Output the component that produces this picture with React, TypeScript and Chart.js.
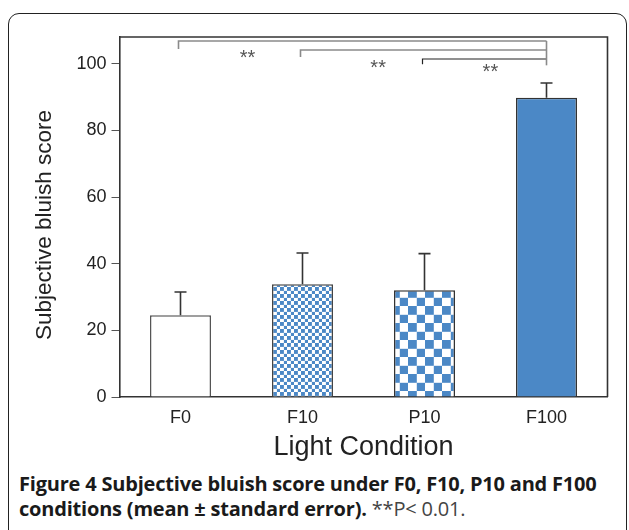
import React, { useEffect, useRef } from "react";
import { Chart, registerables } from "chart.js";

Chart.register(...registerables);

const categories = ["F0", "F10", "P10", "F100"];
const means = [24.5, 33.8, 32.0, 89.8];
const errors = [7.0, 9.4, 11.0, 4.4];
const yTicks = [0, 20, 40, 60, 80, 100];
const bracketFrom = [0, 1, 2];
const bracketTo = [3, 3, 3];
const bracketLevels = [106.8, 104.1, 101.4];
const bracketLegEnds = [104.4, 102.0, 99.8];
const bracketColors = ["#8a8a8a", "#8a8a8a", "#222222"];
const starLevels = [102.4, 99.6, 98.2];
const starXs = [0.55, 1.62, 2.54];
const starLabel = "**";

const BLUE = "#4b88c6";
const FONT = "'Liberation Sans', Arial, sans-serif";

function makeChecker(cell: number): CanvasPattern | string {
  const c = document.createElement("canvas");
  c.width = cell * 2;
  c.height = cell * 2;
  const g = c.getContext("2d");
  if (!g) return BLUE;
  g.fillStyle = "#ffffff";
  g.fillRect(0, 0, cell * 2, cell * 2);
  g.fillStyle = BLUE;
  g.fillRect(0, 0, cell, cell);
  g.fillRect(cell, cell, cell, cell);
  const p = g.createPattern(c, "repeat");
  return p || BLUE;
}

export default function App() {
  const ref = useRef<HTMLCanvasElement | null>(null);

  useEffect(() => {
    document.body.style.margin = "0";
    const canvas = ref.current;
    if (!canvas) return;

    const overlay = {
      id: "overlay",
      afterDatasetsDraw(chart: any) {
        const ctx = chart.ctx;
        const ys = chart.scales.y;
        const xs = chart.scales.x;
        const meta = chart.getDatasetMeta(0);
        ctx.save();
        // error bars
        ctx.strokeStyle = "#333";
        ctx.lineWidth = 1.6;
        meta.data.forEach((bar: any, i: number) => {
          const y0 = ys.getPixelForValue(means[i]);
          const y1 = ys.getPixelForValue(means[i] + errors[i]);
          ctx.beginPath();
          ctx.moveTo(bar.x, y0);
          ctx.lineTo(bar.x, y1);
          ctx.moveTo(bar.x - 6, y1);
          ctx.lineTo(bar.x + 6, y1);
          ctx.stroke();
        });
        // brackets
        bracketFrom.forEach((from, i) => {
          const xa = xs.getPixelForValue(from);
          const xb = xs.getPixelForValue(bracketTo[i]);
          const yl = ys.getPixelForValue(bracketLevels[i]);
          const yleg = ys.getPixelForValue(bracketLegEnds[i]);
          ctx.strokeStyle = bracketColors[i];
          ctx.lineWidth = i === 2 ? 1.2 : 1.6;
          ctx.beginPath();
          ctx.moveTo(xa - 2, yleg);
          ctx.lineTo(xa - 2, yl);
          ctx.lineTo(xb, yl);
          ctx.stroke();
        });
        // right vertical
        const xr = xs.getPixelForValue(bracketTo[0]);
        ctx.strokeStyle = "#8a8a8a";
        ctx.lineWidth = 1.6;
        ctx.beginPath();
        ctx.moveTo(xr, ys.getPixelForValue(bracketLevels[0]));
        ctx.lineTo(xr, ys.getPixelForValue(bracketLegEnds[2]) + 1);
        ctx.stroke();
        // stars
        ctx.fillStyle = "#555";
        ctx.font = "20px " + FONT;
        ctx.textAlign = "center";
        ctx.textBaseline = "middle";
        starXs.forEach((sx, i) => {
          ctx.fillText(starLabel, xs.getPixelForValue(sx), ys.getPixelForValue(starLevels[i]) + 3);
        });
        ctx.restore();
      },
      afterDraw(chart: any) {
        const ctx = chart.ctx;
        const a = chart.chartArea;
        ctx.save();
        ctx.strokeStyle = "#333";
        ctx.lineWidth = 1.6;
        ctx.beginPath();
        ctx.moveTo(a.left, a.top);
        ctx.lineTo(a.right, a.top);
        ctx.lineTo(a.right, a.bottom);
        ctx.stroke();
        ctx.fillStyle = "#222";
        ctx.textAlign = "center";
        ctx.textBaseline = "middle";
        // x title
        ctx.font = "27px " + FONT;
        ctx.fillText("Light Condition", (a.left + a.right) / 2, 448);
        // y title
        ctx.translate(45, 225);
        ctx.rotate(-Math.PI / 2);
        ctx.font = "22.5px " + FONT;
        ctx.fillText("Subjective bluish score", 0, 0);
        ctx.restore();
      },
    };

    const chart = new Chart(canvas, {
      type: "bar",
      data: {
        labels: categories,
        datasets: [
          {
            data: means,
            backgroundColor: ["#ffffff", makeChecker(3.9), makeChecker(8.8), BLUE] as any,
            borderColor: ["#555", "#444", "#333", "#333"],
            borderWidth: 1.5,
            barPercentage: 0.5,
            categoryPercentage: 1,
          },
        ],
      },
      options: {
        animation: false,
        responsive: false,
        maintainAspectRatio: false,
        layout: { padding: { top: 37, right: 21.5, left: 0, bottom: 0 } },
        plugins: { legend: { display: false }, tooltip: { enabled: false } },
        scales: {
          x: {
            grid: { display: false },
            border: { display: true, color: "#333", width: 1.6 },
            ticks: { color: "#222", font: { size: 18, family: FONT }, padding: 2 },
            afterFit: (s: any) => {
              s.height = 73;
            },
          },
          y: {
            min: 0,
            max: 108,
            afterBuildTicks: (s: any) => {
              s.ticks = yTicks.map((v) => ({ value: v }));
            },
            grid: { drawOnChartArea: false, drawTicks: true, tickLength: 8, color: "#555", lineWidth: 1 },
            border: { display: true, color: "#333", width: 1.6 },
            ticks: { color: "#222", font: { size: 18, family: FONT }, padding: 5 },
            afterFit: (s: any) => {
              s.width = 119.5;
            },
          },
        },
      },
      plugins: [overlay],
    });
    return () => chart.destroy();
  }, []);

  return (
    <div style={{ position: "relative", width: 629, height: 530, overflow: "hidden", background: "#fff" }}>
      <div
        style={{
          position: "absolute",
          left: 8,
          top: 13,
          width: 619,
          height: 600,
          border: "1.5px solid #222",
          borderRadius: 11,
          boxSizing: "border-box",
        }}
      />
      <canvas ref={ref} width={629} height={470} style={{ position: "absolute", left: 0, top: 0, width: 629, height: 470 }} />
      <div
        style={{
          position: "absolute",
          left: 19,
          top: 471,
          width: 610,
          fontFamily: "'Open Sans', sans-serif",
          fontSize: 20,
          lineHeight: "25px",
          color: "#1a1a1a",
          fontWeight: 700,
          letterSpacing: "-0.2px",
          whiteSpace: "nowrap",
        }}
      >
        <div>Figure 4 Subjective bluish score under F0, F10, P10 and F100</div>
        <div>
          conditions (mean ± standard error).{" "}
          <span style={{ fontWeight: 400, color: "#444" }}>**P&lt; 0.01.</span>
        </div>
      </div>
    </div>
  );
}
